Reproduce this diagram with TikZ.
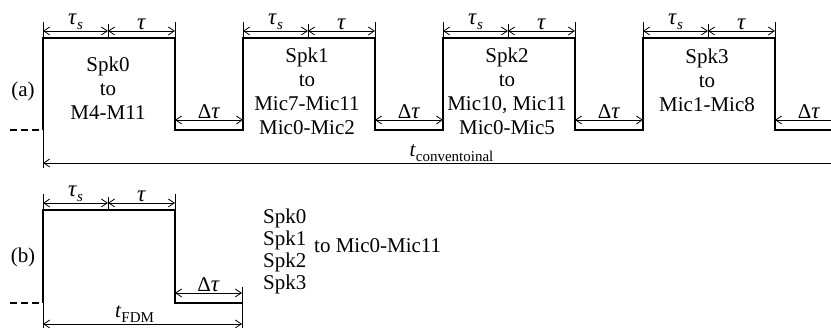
\documentclass[tikz,border=0pt]{standalone}
\usepackage{fontspec}
\setmainfont{Liberation Serif}
\usetikzlibrary{arrows.meta}
\newcommand\ttau{{\fontsize{23}{23}\selectfont\textit{τ}}}
\newcommand\lowsub[1]{\raisebox{-5pt}{\fontsize{15}{15}\selectfont #1}}

\begin{document}
\begin{tikzpicture}[
        x=1pt, y=-1pt,
        every node/.style={font=\fontsize{21}{24}\selectfont, inner sep=1pt},
        pulse/.style={line width=2.6pt},
        stub/.style={line width=2.6pt, dash pattern=on 7pt off 4pt},
        dim/.style={line width=0.8pt,
          {Straight Barb[length=6pt,width=8pt]}-{Straight Barb[length=6pt,width=8pt]}},
        tick/.style={line width=0.8pt},
      ]
      \useasboundingbox (0,0) rectangle (831,328);
      \clip (0,0) rectangle (831,328);

      % (a) konventionell
      \node (lbla) at (23,91) {(a)};
      \draw[stub] (10,130) -- (43,130);
      \draw[pulse] (43,130)
        foreach \i in {0,...,3} { -- ++(0,-92) -- ++(132,0) -- ++(0,92) -- ++(68,0) };

      \foreach \i in {0,...,3} {
        \pgfmathsetmacro\xa{43+200*\i}
        \draw[tick] (\xa,38) -- (\xa,22);
        \draw[tick] (\xa+65,38) -- (\xa+65,24);
        \draw[tick] (\xa+132,38) -- (\xa+132,22);
        \draw[dim] (\xa,31) -- node[above] (ts\i) {\ttau\lowsub{\textit{s}}} (\xa+65,31);
        \draw[dim] (\xa+65,31) -- node[above] (ta\i) {\ttau} (\xa+132,31);
        \draw[dim] (\xa+132,120) -- node[above] (dt\i) {Δ\ttau} (\xa+200,120);
      }

      \node[align=center] (spk0) at (108,88) {Spk0\\to\\M4-M11};
      \node[align=center] (spk1) at (307,91) {Spk1\\to\\Mic7-Mic11\\Mic0-Mic2};
      \node[align=center] (spk2) at (507,91) {Spk2\\to\\Mic10, Mic11\\Mic0-Mic5};
      \node[align=center] (spk3) at (707,80) {Spk3\\to\\Mic1-Mic8};

      \draw[tick] (43,130) -- (43,168);
      \draw[dim] (43,163) -- node[above, pos=0.5] (tconv) {\textit{t}\lowsub{conventoinal}} (860,163);

      % (b) FDM
      \node (lblb) at (23,257) {(b)};
      \draw[stub] (10,303) -- (43,303);
      \draw[pulse] (43,303) -- (43,210) -- (175,210) -- (175,303) -- (242,303);
      \draw[tick] (43,210) -- (43,194);
      \draw[tick] (108,210) -- (108,197);
      \draw[tick] (175,210) -- (175,194);
      \draw[dim] (43,203) -- node[above] (tsb) {\ttau\lowsub{\textit{s}}} (108,203);
      \draw[dim] (108,203) -- node[above] (tab) {\ttau} (175,203);
      \draw[tick] (242,287) -- (242,328);
      \draw[dim] (175,293) -- node[above] (dtb) {Δ\ttau} (242,293);
      \draw[tick] (43,303) -- (43,328);
      \draw[dim] (43,324) -- node[above, pos=0.46] (tfdm) {\textit{t}\lowsub{FDM}} (242,324);

      \node[align=left, anchor=west, font=\fontsize{21}{22}\selectfont] (spkall) at (262,251) {Spk0\\Spk1\\Spk2\\Spk3};
      \node[anchor=west] (micall) at (313,246) {to Mic0-Mic11};
    \end{tikzpicture}
\end{document}
